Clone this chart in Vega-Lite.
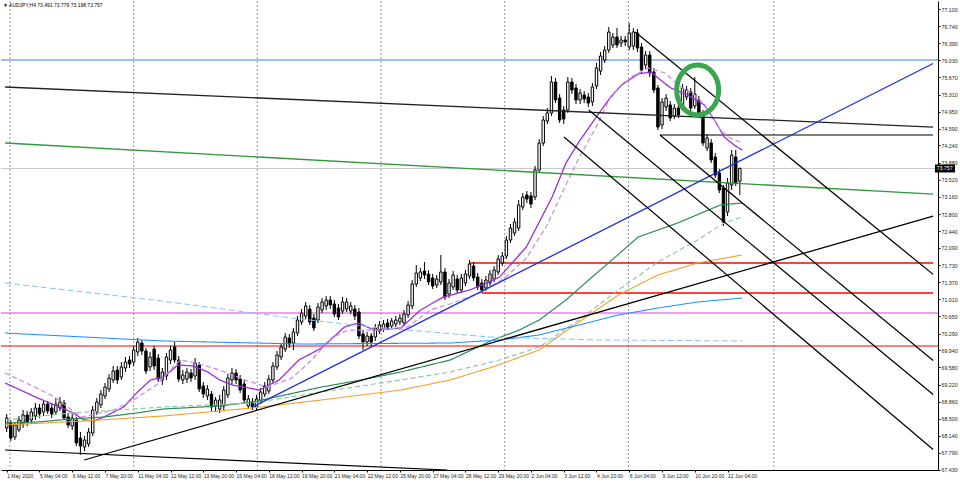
{
 "$schema": "https://vega.github.io/schema/vega-lite/v6.json",
 "width": 937, "height": 469,
 "autosize": {"type": "none"},
 "padding": {"left": 1, "top": 1, "right": 22, "bottom": 12},
 "background": "#ffffff",
 "config": {"view": {"stroke": null}, "axis": {"grid": false, "title": null}},
 "title": {"text": "▼ AUDJPY,H4  73.491 73.779 73.198 73.757", "anchor": "start", "frame": "group", "offset": -7, "dx": 2, "fontSize": 5, "font": "Liberation Sans", "fontWeight": "normal", "color": "#000000"},
 "datasets": {
  "vgrid": [{"i":0.8},{"i":31.0},{"i":61.2},{"i":91.4},{"i":121.6},{"i":151.8},{"i":187.3}],
  "hfull": [{"s":"bid","v":73.757},{"s":"blueh","v":76.035},{"s":"red","v":70.029},{"s":"mag","v":70.722}],
  "hpart": [{"s":"red","i":113.1,"i2":226.16,"v":71.772},{"s":"red","i":116.0,"i2":226.16,"v":71.142},{"s":"blk","i":159.5,"i2":226.16,"v":74.46}],
  "candles": [
{"i":0,"o":68.307,"h":68.601,"l":68.223,"c":68.517},
{"i":1,"o":68.412,"h":68.475,"l":68.034,"c":68.097},
{"i":2,"o":68.118,"h":68.433,"l":68.055,"c":68.370},
{"i":3,"o":68.265,"h":68.559,"l":68.223,"c":68.475},
{"i":4,"o":68.391,"h":68.685,"l":68.307,"c":68.580},
{"i":5,"o":68.580,"h":68.664,"l":68.349,"c":68.433},
{"i":6,"o":68.475,"h":68.727,"l":68.391,"c":68.643},
{"i":7,"o":68.559,"h":68.832,"l":68.475,"c":68.727},
{"i":8,"o":68.727,"h":68.811,"l":68.517,"c":68.601},
{"i":9,"o":68.643,"h":68.895,"l":68.559,"c":68.811},
{"i":10,"o":68.811,"h":68.874,"l":68.601,"c":68.664},
{"i":11,"o":68.727,"h":68.832,"l":68.517,"c":68.601},
{"i":12,"o":68.643,"h":68.937,"l":68.580,"c":68.811},
{"i":13,"o":68.727,"h":68.958,"l":68.664,"c":68.853},
{"i":14,"o":68.832,"h":68.895,"l":68.475,"c":68.517},
{"i":15,"o":68.538,"h":68.622,"l":68.307,"c":68.370},
{"i":16,"o":68.349,"h":68.601,"l":68.265,"c":68.517},
{"i":17,"o":68.475,"h":68.538,"l":67.929,"c":67.992},
{"i":18,"o":68.097,"h":68.223,"l":67.740,"c":67.929},
{"i":19,"o":67.908,"h":68.139,"l":67.824,"c":68.055},
{"i":20,"o":67.971,"h":68.307,"l":67.908,"c":68.223},
{"i":21,"o":68.202,"h":68.769,"l":68.139,"c":68.685},
{"i":22,"o":68.643,"h":68.937,"l":68.580,"c":68.853},
{"i":23,"o":68.790,"h":69.105,"l":68.727,"c":69.021},
{"i":24,"o":68.979,"h":69.252,"l":68.916,"c":69.168},
{"i":25,"o":69.126,"h":69.441,"l":69.063,"c":69.357},
{"i":26,"o":69.315,"h":69.609,"l":69.252,"c":69.504},
{"i":27,"o":69.525,"h":69.609,"l":69.231,"c":69.315},
{"i":28,"o":69.378,"h":69.693,"l":69.315,"c":69.588},
{"i":29,"o":69.567,"h":69.798,"l":69.483,"c":69.693},
{"i":30,"o":69.735,"h":69.819,"l":69.567,"c":69.651},
{"i":31,"o":69.693,"h":70.029,"l":69.609,"c":69.945},
{"i":32,"o":69.903,"h":70.197,"l":69.819,"c":70.113},
{"i":33,"o":70.092,"h":70.155,"l":69.840,"c":69.924},
{"i":34,"o":69.924,"h":69.987,"l":69.441,"c":69.504},
{"i":35,"o":69.588,"h":69.903,"l":69.504,"c":69.798},
{"i":36,"o":69.966,"h":70.029,"l":69.525,"c":69.609},
{"i":37,"o":69.777,"h":69.861,"l":69.273,"c":69.336},
{"i":38,"o":69.315,"h":69.567,"l":69.210,"c":69.483},
{"i":39,"o":69.399,"h":69.882,"l":69.315,"c":69.798},
{"i":40,"o":69.735,"h":70.029,"l":69.651,"c":69.945},
{"i":41,"o":70.008,"h":70.113,"l":69.672,"c":69.735},
{"i":42,"o":69.735,"h":69.819,"l":69.273,"c":69.336},
{"i":43,"o":69.315,"h":69.525,"l":69.231,"c":69.420},
{"i":44,"o":69.336,"h":69.567,"l":69.252,"c":69.483},
{"i":45,"o":69.462,"h":69.546,"l":69.273,"c":69.357},
{"i":46,"o":69.399,"h":69.777,"l":69.315,"c":69.672},
{"i":47,"o":69.630,"h":69.693,"l":69.063,"c":69.126},
{"i":48,"o":69.189,"h":69.273,"l":68.937,"c":69.021},
{"i":49,"o":68.979,"h":69.210,"l":68.895,"c":69.126},
{"i":50,"o":69.021,"h":69.084,"l":68.664,"c":68.748},
{"i":51,"o":68.769,"h":68.958,"l":68.643,"c":68.895},
{"i":52,"o":68.706,"h":69.000,"l":68.622,"c":68.895},
{"i":53,"o":68.769,"h":69.189,"l":68.685,"c":69.105},
{"i":54,"o":69.000,"h":69.441,"l":68.937,"c":69.357},
{"i":55,"o":69.315,"h":69.567,"l":69.231,"c":69.462},
{"i":56,"o":69.462,"h":69.546,"l":69.231,"c":69.315},
{"i":57,"o":69.336,"h":69.420,"l":69.042,"c":69.105},
{"i":58,"o":69.231,"h":69.315,"l":68.832,"c":68.895},
{"i":59,"o":68.769,"h":69.000,"l":68.706,"c":68.916},
{"i":60,"o":68.853,"h":68.937,"l":68.685,"c":68.748},
{"i":61,"o":68.748,"h":69.000,"l":68.685,"c":68.916},
{"i":62,"o":68.874,"h":69.147,"l":68.811,"c":69.063},
{"i":63,"o":69.021,"h":69.273,"l":68.958,"c":69.189},
{"i":64,"o":69.084,"h":69.420,"l":69.021,"c":69.336},
{"i":65,"o":69.315,"h":69.693,"l":69.252,"c":69.609},
{"i":66,"o":69.588,"h":69.924,"l":69.525,"c":69.840},
{"i":67,"o":69.798,"h":70.092,"l":69.735,"c":70.008},
{"i":68,"o":69.966,"h":70.302,"l":69.903,"c":70.218},
{"i":69,"o":70.197,"h":70.281,"l":69.987,"c":70.071},
{"i":70,"o":70.092,"h":70.407,"l":69.945,"c":70.323},
{"i":71,"o":70.302,"h":70.659,"l":70.239,"c":70.575},
{"i":72,"o":70.533,"h":70.806,"l":70.470,"c":70.722},
{"i":73,"o":70.659,"h":70.953,"l":70.596,"c":70.869},
{"i":74,"o":70.806,"h":70.890,"l":70.470,"c":70.533},
{"i":75,"o":70.617,"h":70.701,"l":70.344,"c":70.407},
{"i":76,"o":70.575,"h":70.932,"l":70.512,"c":70.848},
{"i":77,"o":70.785,"h":71.037,"l":70.722,"c":70.953},
{"i":78,"o":70.869,"h":71.079,"l":70.785,"c":70.995},
{"i":79,"o":70.995,"h":71.079,"l":70.806,"c":70.890},
{"i":80,"o":70.911,"h":70.995,"l":70.638,"c":70.701},
{"i":81,"o":70.827,"h":70.911,"l":70.575,"c":70.638},
{"i":82,"o":70.764,"h":71.058,"l":70.701,"c":70.953},
{"i":83,"o":70.806,"h":71.037,"l":70.743,"c":70.953},
{"i":84,"o":70.764,"h":70.953,"l":70.701,"c":70.869},
{"i":85,"o":70.806,"h":70.890,"l":70.575,"c":70.659},
{"i":86,"o":70.743,"h":70.827,"l":70.176,"c":70.239},
{"i":87,"o":70.281,"h":70.365,"l":69.945,"c":70.113},
{"i":88,"o":70.113,"h":70.323,"l":70.029,"c":70.239},
{"i":89,"o":70.239,"h":70.302,"l":70.029,"c":70.113},
{"i":90,"o":70.218,"h":70.491,"l":70.134,"c":70.407},
{"i":91,"o":70.344,"h":70.554,"l":70.281,"c":70.470},
{"i":92,"o":70.386,"h":70.575,"l":70.323,"c":70.491},
{"i":93,"o":70.512,"h":70.596,"l":70.365,"c":70.428},
{"i":94,"o":70.449,"h":70.617,"l":70.386,"c":70.554},
{"i":95,"o":70.491,"h":70.659,"l":70.428,"c":70.575},
{"i":96,"o":70.533,"h":70.701,"l":70.470,"c":70.617},
{"i":97,"o":70.512,"h":70.785,"l":70.449,"c":70.701},
{"i":98,"o":70.680,"h":70.974,"l":70.617,"c":70.890},
{"i":99,"o":70.869,"h":71.415,"l":70.806,"c":71.331},
{"i":100,"o":71.331,"h":71.730,"l":71.268,"c":71.562},
{"i":101,"o":71.457,"h":71.667,"l":71.394,"c":71.583},
{"i":102,"o":71.604,"h":71.793,"l":71.436,"c":71.520},
{"i":103,"o":71.541,"h":71.625,"l":71.310,"c":71.373},
{"i":104,"o":71.457,"h":71.541,"l":71.226,"c":71.289},
{"i":105,"o":71.310,"h":71.520,"l":71.247,"c":71.436},
{"i":106,"o":71.373,"h":71.940,"l":71.310,"c":71.583},
{"i":107,"o":71.583,"h":71.667,"l":70.995,"c":71.058},
{"i":108,"o":71.121,"h":71.436,"l":71.037,"c":71.352},
{"i":109,"o":71.268,"h":71.604,"l":71.205,"c":71.520},
{"i":110,"o":71.436,"h":71.520,"l":71.142,"c":71.205},
{"i":111,"o":71.205,"h":71.541,"l":71.142,"c":71.457},
{"i":112,"o":71.352,"h":71.625,"l":71.289,"c":71.541},
{"i":113,"o":71.499,"h":71.835,"l":71.436,"c":71.751},
{"i":114,"o":71.709,"h":71.793,"l":71.394,"c":71.457},
{"i":115,"o":71.478,"h":71.562,"l":71.205,"c":71.268},
{"i":116,"o":71.352,"h":71.436,"l":71.142,"c":71.205},
{"i":117,"o":71.247,"h":71.499,"l":71.184,"c":71.415},
{"i":118,"o":71.352,"h":71.625,"l":71.289,"c":71.541},
{"i":119,"o":71.436,"h":71.709,"l":71.373,"c":71.625},
{"i":120,"o":71.583,"h":71.940,"l":71.520,"c":71.856},
{"i":121,"o":71.772,"h":72.003,"l":71.709,"c":71.919},
{"i":122,"o":71.919,"h":72.339,"l":71.856,"c":72.255},
{"i":123,"o":72.255,"h":72.591,"l":72.192,"c":72.507},
{"i":124,"o":72.402,"h":72.717,"l":72.339,"c":72.633},
{"i":125,"o":72.507,"h":73.095,"l":72.444,"c":72.990},
{"i":126,"o":72.948,"h":73.242,"l":72.885,"c":73.158},
{"i":127,"o":73.200,"h":73.284,"l":73.032,"c":73.116},
{"i":128,"o":73.179,"h":73.263,"l":72.927,"c":73.011},
{"i":129,"o":73.158,"h":73.809,"l":73.095,"c":73.725},
{"i":130,"o":73.725,"h":74.376,"l":73.662,"c":74.292},
{"i":131,"o":74.292,"h":74.859,"l":74.229,"c":74.775},
{"i":132,"o":74.754,"h":75.027,"l":74.691,"c":74.922},
{"i":133,"o":74.922,"h":75.699,"l":74.859,"c":75.573},
{"i":134,"o":75.573,"h":75.657,"l":75.132,"c":75.195},
{"i":135,"o":75.237,"h":75.321,"l":74.712,"c":74.775},
{"i":136,"o":74.985,"h":75.069,"l":74.691,"c":74.796},
{"i":137,"o":74.985,"h":75.678,"l":74.922,"c":75.573},
{"i":138,"o":75.573,"h":75.657,"l":75.321,"c":75.405},
{"i":139,"o":75.447,"h":75.531,"l":75.111,"c":75.195},
{"i":140,"o":75.195,"h":75.426,"l":75.111,"c":75.342},
{"i":141,"o":75.300,"h":75.384,"l":75.132,"c":75.216},
{"i":142,"o":75.258,"h":75.342,"l":75.048,"c":75.132},
{"i":143,"o":75.153,"h":75.552,"l":75.069,"c":75.468},
{"i":144,"o":75.489,"h":75.972,"l":75.426,"c":75.867},
{"i":145,"o":75.804,"h":76.203,"l":75.720,"c":76.119},
{"i":146,"o":76.035,"h":76.329,"l":75.972,"c":76.245},
{"i":147,"o":76.245,"h":76.728,"l":76.182,"c":76.623},
{"i":148,"o":76.350,"h":76.602,"l":76.287,"c":76.518},
{"i":149,"o":76.518,"h":76.707,"l":76.287,"c":76.350},
{"i":150,"o":76.392,"h":76.539,"l":76.308,"c":76.455},
{"i":151,"o":76.455,"h":76.539,"l":76.329,"c":76.413},
{"i":152,"o":76.308,"h":76.812,"l":76.245,"c":76.602},
{"i":153,"o":76.329,"h":76.707,"l":76.245,"c":76.623},
{"i":154,"o":76.602,"h":76.686,"l":76.203,"c":76.287},
{"i":155,"o":76.308,"h":76.392,"l":75.762,"c":75.825},
{"i":156,"o":75.930,"h":76.224,"l":75.846,"c":76.140},
{"i":157,"o":76.140,"h":76.224,"l":75.678,"c":75.762},
{"i":158,"o":75.783,"h":75.867,"l":75.342,"c":75.405},
{"i":159,"o":75.447,"h":75.510,"l":74.565,"c":74.628},
{"i":160,"o":74.670,"h":75.237,"l":74.586,"c":75.153},
{"i":161,"o":75.048,"h":75.321,"l":74.964,"c":75.237},
{"i":162,"o":75.090,"h":75.174,"l":74.754,"c":74.817},
{"i":163,"o":74.859,"h":75.111,"l":74.796,"c":75.027},
{"i":164,"o":75.027,"h":75.111,"l":74.817,"c":74.880},
{"i":165,"o":75.027,"h":75.531,"l":74.964,"c":75.447},
{"i":166,"o":75.258,"h":75.489,"l":75.195,"c":75.405},
{"i":167,"o":75.363,"h":75.447,"l":74.964,"c":75.027},
{"i":168,"o":75.069,"h":75.678,"l":75.006,"c":75.321},
{"i":169,"o":75.195,"h":75.279,"l":74.817,"c":74.880},
{"i":170,"o":74.901,"h":74.985,"l":74.229,"c":74.292},
{"i":171,"o":74.187,"h":74.481,"l":74.124,"c":74.397},
{"i":172,"o":74.292,"h":74.376,"l":73.872,"c":73.935},
{"i":173,"o":73.998,"h":74.082,"l":73.557,"c":73.620},
{"i":174,"o":73.662,"h":73.746,"l":73.242,"c":73.305},
{"i":175,"o":73.347,"h":73.410,"l":72.549,"c":72.633},
{"i":176,"o":72.843,"h":73.557,"l":72.759,"c":73.452},
{"i":177,"o":73.410,"h":74.145,"l":73.305,"c":74.040},
{"i":178,"o":73.998,"h":74.145,"l":73.389,"c":73.452},
{"i":179,"o":73.491,"h":73.779,"l":73.198,"c":73.757}
  ],
  "mas": [
{"s":"pS","i":-0.4,"v":69.252},{"s":"pS","i":7.56,"v":68.937},{"s":"pS","i":11.67,"v":68.79},{"s":"pS","i":15.77,"v":68.643},{"s":"pS","i":18.91,"v":68.475},{"s":"pS","i":21.33,"v":68.454},{"s":"pS","i":23.74,"v":68.538},{"s":"pS","i":28.57,"v":68.748},{"s":"pS","i":31.71,"v":69.042},{"s":"pS","i":35.1,"v":69.315},{"s":"pS","i":38.24,"v":69.378},{"s":"pS","i":41.86,"v":69.63},{"s":"pS","i":45.48,"v":69.609},{"s":"pS","i":49.11,"v":69.483},{"s":"pS","i":52.0,"v":69.315},{"s":"pS","i":55.14,"v":69.21},{"s":"pS","i":61.67,"v":69.105},{"s":"pS","i":66.5,"v":69.315},{"s":"pS","i":71.33,"v":69.735},{"s":"pS","i":76.88,"v":69.987},{"s":"pS","i":82.44,"v":70.428},{"s":"pS","i":85.82,"v":70.512},{"s":"pS","i":89.69,"v":70.365},{"s":"pS","i":96.21,"v":70.407},{"s":"pS","i":101.04,"v":70.785},{"s":"pS","i":106.59,"v":71.058},{"s":"pS","i":113.12,"v":71.205},{"s":"pS","i":120.36,"v":71.478},{"s":"pS","i":126.88,"v":72.108},{"s":"pS","i":130.02,"v":72.633},{"s":"pS","i":133.17,"v":73.158},{"s":"pS","i":136.55,"v":73.872},{"s":"pS","i":139.69,"v":74.313},{"s":"pS","i":143.79,"v":74.817},{"s":"pS","i":146.93,"v":75.195},{"s":"pS","i":150.07,"v":75.51},{"s":"pS","i":154.18,"v":75.741},{"s":"pS","i":157.32,"v":75.783},{"s":"pS","i":159.01,"v":75.657},{"s":"pS","i":162.15,"v":75.447},{"s":"pS","i":166.26,"v":75.3},{"s":"pS","i":170.36,"v":75.09},{"s":"pS","i":172.78,"v":74.775},{"s":"pS","i":175.19,"v":74.418},{"s":"pS","i":177.61,"v":74.25},{"s":"pS","i":179.54,"v":74.145},
{"s":"pD","i":-0.4,"v":69.462},{"s":"pD","i":6.84,"v":69.168},{"s":"pD","i":11.67,"v":68.958},{"s":"pD","i":18.19,"v":68.538},{"s":"pD","i":26.16,"v":68.685},{"s":"pD","i":31.71,"v":68.937},{"s":"pD","i":36.55,"v":69.21},{"s":"pD","i":42.34,"v":69.735},{"s":"pD","i":46.21,"v":69.672},{"s":"pD","i":52.0,"v":69.525},{"s":"pD","i":58.29,"v":69.315},{"s":"pD","i":63.6,"v":69.168},{"s":"pD","i":69.64,"v":69.357},{"s":"pD","i":74.47,"v":69.735},{"s":"pD","i":79.3,"v":70.197},{"s":"pD","i":83.41,"v":70.365},{"s":"pD","i":91.38,"v":70.365},{"s":"pD","i":97.9,"v":70.428},{"s":"pD","i":103.45,"v":70.785},{"s":"pD","i":108.99,"v":70.932},{"s":"pD","i":115.53,"v":71.142},{"s":"pD","i":121.57,"v":71.457},{"s":"pD","i":126.88,"v":71.877},{"s":"pD","i":131.71,"v":72.528},{"s":"pD","i":135.58,"v":73.242},{"s":"pD","i":139.69,"v":73.977},{"s":"pD","i":143.79,"v":74.607},{"s":"pD","i":147.66,"v":75.3},{"s":"pD","i":152.49,"v":75.678},{"s":"pD","i":156.59,"v":75.867},{"s":"pD","i":160.7,"v":75.762},{"s":"pD","i":164.56,"v":75.468},{"s":"pD","i":168.67,"v":75.258},{"s":"pD","i":171.81,"v":74.922},{"s":"pD","i":174.23,"v":74.565},{"s":"pD","i":176.64,"v":74.397},{"s":"pD","i":179.54,"v":74.292},
{"s":"gS","i":-0.4,"v":68.412},{"s":"gS","i":7.56,"v":68.433},{"s":"gS","i":15.77,"v":68.496},{"s":"gS","i":23.74,"v":68.538},{"s":"gS","i":31.71,"v":68.622},{"s":"gS","i":38.24,"v":68.706},{"s":"gS","i":52.0,"v":68.769},{"s":"gS","i":59.98,"v":68.853},{"s":"gS","i":67.95,"v":69.0},{"s":"gS","i":76.88,"v":69.168},{"s":"gS","i":86.55,"v":69.315},{"s":"gS","i":96.21,"v":69.483},{"s":"gS","i":108.29,"v":69.735},{"s":"gS","i":118.67,"v":70.155},{"s":"gS","i":125.19,"v":70.365},{"s":"gS","i":130.02,"v":70.575},{"s":"gS","i":136.55,"v":70.995},{"s":"gS","i":142.1,"v":71.415},{"s":"gS","i":146.93,"v":71.772},{"s":"gS","i":154.18,"v":72.318},{"s":"gS","i":163.84,"v":72.612},{"s":"gS","i":174.23,"v":72.99},{"s":"gS","i":179.54,"v":73.032},
{"s":"gD","i":-0.4,"v":68.475},{"s":"gD","i":15.77,"v":68.622},{"s":"gD","i":38.24,"v":68.748},{"s":"gD","i":59.98,"v":68.832},{"s":"gD","i":76.88,"v":69.063},{"s":"gD","i":96.21,"v":69.315},{"s":"gD","i":108.29,"v":69.483},{"s":"gD","i":120.36,"v":69.735},{"s":"gD","i":130.02,"v":70.008},{"s":"gD","i":139.69,"v":70.575},{"s":"gD","i":149.35,"v":71.205},{"s":"gD","i":159.01,"v":71.793},{"s":"gD","i":168.67,"v":72.255},{"s":"gD","i":175.19,"v":72.612},{"s":"gD","i":179.54,"v":72.738},
{"s":"or","i":-0.4,"v":68.37},{"s":"or","i":18.91,"v":68.454},{"s":"or","i":38.24,"v":68.559},{"s":"or","i":59.98,"v":68.727},{"s":"or","i":76.88,"v":68.895},{"s":"or","i":96.21,"v":69.105},{"s":"or","i":108.29,"v":69.315},{"s":"or","i":118.67,"v":69.588},{"s":"or","i":130.02,"v":69.945},{"s":"or","i":139.69,"v":70.533},{"s":"or","i":149.35,"v":71.1},{"s":"or","i":159.01,"v":71.52},{"s":"or","i":168.67,"v":71.772},{"s":"or","i":179.54,"v":71.94},
{"s":"lbS","i":-0.4,"v":70.302},{"s":"lbS","i":38.24,"v":70.134},{"s":"lbS","i":72.05,"v":70.071},{"s":"lbS","i":108.29,"v":70.092},{"s":"lbS","i":120.36,"v":70.155},{"s":"lbS","i":130.02,"v":70.26},{"s":"lbS","i":139.69,"v":70.47},{"s":"lbS","i":149.35,"v":70.68},{"s":"lbS","i":159.01,"v":70.827},{"s":"lbS","i":168.67,"v":70.953},{"s":"lbS","i":179.54,"v":71.037},
{"s":"lbD","i":-0.4,"v":71.352},{"s":"lbD","i":35.82,"v":70.995},{"s":"lbD","i":69.64,"v":70.617},{"s":"lbD","i":88.97,"v":70.428},{"s":"lbD","i":117.95,"v":70.218},{"s":"lbD","i":144.52,"v":70.155},{"s":"lbD","i":179.54,"v":70.134}
  ],
  "tl": [
{"s":"blk1","i":-0.4,"v":75.468},{"s":"blk1","i":226.2,"v":74.626},
{"s":"grT","i":-0.4,"v":74.292},{"s":"grT","i":226.2,"v":73.217},
{"s":"bluT","i":59.98,"v":68.748},{"s":"bluT","i":226.2,"v":75.962},
{"s":"blk2","i":18.91,"v":67.635},{"s":"blk2","i":226.2,"v":72.757},
{"s":"blk3","i":-0.4,"v":67.845},{"s":"blk3","i":107.56,"v":67.425},
{"s":"L1","i":153.45,"v":76.623},{"s":"L1","i":226.2,"v":71.533},
{"s":"L2","i":142.1,"v":74.985},{"s":"L2","i":226.2,"v":69.01},
{"s":"L3","i":159.5,"v":74.46},{"s":"L3","i":226.2,"v":69.725},
{"s":"L4","i":136.06,"v":74.418},{"s":"L4","i":226.2,"v":67.856}
  ],
  "circle": [{"i":168.7,"v":75.405}],
  "last": [{"i":226.16,"v":73.757,"t":"73.757"}]
 },
 "resolve": {"scale": {"color": "independent", "strokeWidth": "independent", "strokeDash": "independent"}, "axis": {"x": "independent", "y": "independent"}},
 "layer": [
  {
   "data": {"name": "vgrid"},
   "mark": {"type": "rule", "stroke": "#7a7a7a", "strokeDash": [2, 2], "strokeWidth": 0.8},
   "encoding": {"x": {"field": "i", "type": "quantitative", "scale": {"type": "linear", "domain": [-0.17, 226.16], "nice": false, "zero": false},
     "axis": {"orient": "bottom", "title": null, "values": [0,8,16,24,32,40,48,56,64,72,80,88,96,104,112,120,128,136,144,152,160,168,176],
      "labelExpr": "['1 May 2020','5 May 04:00','6 May 12:00','7 May 20:00','11 May 04:00','12 May 12:00','13 May 20:00','15 May 04:00','18 May 12:00','19 May 20:00','21 May 04:00','22 May 12:00','25 May 20:00','27 May 04:00','28 May 12:00','29 May 20:00','2 Jun 04:00','3 Jun 12:00','4 Jun 20:00','8 Jun 04:00','9 Jun 12:00','10 Jun 20:00','12 Jun 04:00'][round(datum.value/8)]",
      "labelAlign": "left", "labelFontSize": 5, "labelFont": "Liberation Sans", "labelColor": "#222222", "tickSize": 2, "tickColor": "#000000", "domainColor": "#000000", "labelPadding": 1, "labelOverlap": false, "labelBound": false, "labelFlush": false, "grid": false}}}
  },
  {
   "data": {"name": "hfull"},
   "mark": {"type": "rule", "clip": true},
   "encoding": {
    "y": {"field": "v", "type": "quantitative", "scale": {"type": "linear", "domain": [67.425, 77.274], "nice": false, "zero": false},
     "axis": {"orient": "right", "title": null, "values": [77.1,76.74,76.39,76.03,75.67,75.31,74.95,74.59,74.24,73.88,73.52,73.16,72.8,72.44,72.09,71.73,71.37,71.01,70.65,70.29,69.94,69.58,69.22,68.86,68.5,68.14,67.79,67.43],
      "format": ".3f", "labelFontSize": 5.3, "labelFont": "Liberation Sans", "labelColor": "#222222", "tickSize": 2, "tickColor": "#000000", "domainColor": "#000000", "labelPadding": 1, "labelOverlap": false, "labelBound": false, "labelFlush": false, "labelSeparation": 0, "grid": false}},
    "color": {"field": "s", "type": "nominal", "scale": {"domain": ["bid", "blueh", "red", "mag"], "range": ["#c8c8c8", "#3f7fd8", "#ff0000", "#e040e0"]}, "legend": null},
    "strokeWidth": {"field": "s", "type": "nominal", "scale": {"domain": ["bid", "blueh", "red", "mag"], "range": [1, 1.2, 1.5, 1.6]}, "legend": null}
   }
  },
  {
   "data": {"name": "hpart"},
   "mark": {"type": "rule", "clip": true},
   "encoding": {
    "x": {"field": "i", "type": "quantitative", "scale": {"type": "linear", "domain": [-0.17, 226.16], "nice": false, "zero": false}, "axis": null},
    "x2": {"field": "i2"},
    "y": {"field": "v", "type": "quantitative", "scale": {"type": "linear", "domain": [67.425, 77.274], "nice": false, "zero": false}, "axis": null},
    "color": {"field": "s", "type": "nominal", "scale": {"domain": ["red", "blk"], "range": ["#ff0000", "#000000"]}, "legend": null},
    "strokeWidth": {"field": "s", "type": "nominal", "scale": {"domain": ["red", "blk"], "range": [1.5, 1.2]}, "legend": null}
   }
  },
  {
   "data": {"name": "candles"},
   "mark": {"type": "rule", "stroke": "#000000", "strokeWidth": 1},
   "encoding": {
    "x": {"field": "i", "type": "quantitative", "scale": {"type": "linear", "domain": [-0.17, 226.16], "nice": false, "zero": false}, "axis": null},
    "y": {"field": "l", "type": "quantitative", "scale": {"type": "linear", "domain": [67.425, 77.274], "nice": false, "zero": false}, "axis": null},
    "y2": {"field": "h"}
   }
  },
  {
   "data": {"name": "candles"},
   "mark": {"type": "bar", "size": 2.4, "stroke": "#000000", "strokeWidth": 1},
   "encoding": {
    "x": {"field": "i", "type": "quantitative", "scale": {"type": "linear", "domain": [-0.17, 226.16], "nice": false, "zero": false}, "axis": null},
    "y": {"field": "o", "type": "quantitative", "scale": {"type": "linear", "domain": [67.425, 77.274], "nice": false, "zero": false}, "axis": null},
    "y2": {"field": "c"},
    "fill": {"condition": {"test": "datum.c >= datum.o", "value": "#ffffff"}, "value": "#000000"}
   }
  },
  {
   "data": {"name": "mas"},
   "mark": {"type": "line", "clip": true},
   "encoding": {
    "x": {"field": "i", "type": "quantitative", "scale": {"type": "linear", "domain": [-0.17, 226.16], "nice": false, "zero": false}, "axis": null},
    "y": {"field": "v", "type": "quantitative", "scale": {"type": "linear", "domain": [67.425, 77.274], "nice": false, "zero": false}, "axis": null},
    "color": {"field": "s", "type": "nominal", "scale": {"domain": ["pS", "pD", "gS", "gD", "or", "lbS", "lbD"], "range": ["#9b30d9", "#c68ee6", "#2e8b57", "#8cc79e", "#f0a030", "#1e90ff", "#87c3f5"]}, "legend": null},
    "strokeDash": {"field": "s", "type": "nominal", "scale": {"domain": ["pS", "pD", "gS", "gD", "or", "lbS", "lbD"], "range": [[1, 0], [5, 3], [1, 0], [5, 3], [1, 0], [1, 0], [6, 3]]}, "legend": null},
    "strokeWidth": {"field": "s", "type": "nominal", "scale": {"domain": ["pS", "pD", "gS", "gD", "or", "lbS", "lbD"], "range": [1.3, 1, 1.3, 1, 1.3, 1.5, 1.2]}, "legend": null}
   }
  },
  {
   "data": {"name": "tl"},
   "mark": {"type": "line", "clip": true},
   "encoding": {
    "x": {"field": "i", "type": "quantitative", "scale": {"type": "linear", "domain": [-0.17, 226.16], "nice": false, "zero": false}, "axis": null},
    "y": {"field": "v", "type": "quantitative", "scale": {"type": "linear", "domain": [67.425, 77.274], "nice": false, "zero": false}, "axis": null},
    "color": {"field": "s", "type": "nominal", "scale": {"domain": ["blk1", "grT", "bluT", "blk2", "blk3", "L1", "L2", "L3", "L4"], "range": ["#222222", "#2f9a3a", "#1a2ee6", "#000000", "#000000", "#000000", "#000000", "#000000", "#000000"]}, "legend": null},
    "strokeWidth": {"field": "s", "type": "nominal", "scale": {"domain": ["blk1", "grT", "bluT", "blk2", "blk3", "L1", "L2", "L3", "L4"], "range": [1.3, 1.2, 1.6, 1.4, 1.2, 1.1, 1.1, 1.1, 1.1]}, "legend": null}
   }
  },
  {
   "data": {"name": "circle"},
   "mark": {"type": "point", "shape": "M -0.84 0 A 0.84 1 0 1 0 0.84 0 A 0.84 1 0 1 0 -0.84 0 Z", "size": 2500, "filled": false, "stroke": "#3aa650", "strokeWidth": 5, "opacity": 1},
   "encoding": {
    "x": {"field": "i", "type": "quantitative", "scale": {"type": "linear", "domain": [-0.17, 226.16], "nice": false, "zero": false}, "axis": null},
    "y": {"field": "v", "type": "quantitative", "scale": {"type": "linear", "domain": [67.425, 77.274], "nice": false, "zero": false}, "axis": null}
   }
  },
  {
   "data": {"name": "last"},
   "mark": {"type": "point", "shape": "M 0.5 -1 L 5.5 -1 L 5.5 1 L 0.5 1 Z", "size": 64, "filled": true, "fill": "#000000", "stroke": null, "opacity": 1},
   "encoding": {
    "x": {"field": "i", "type": "quantitative", "scale": {"type": "linear", "domain": [-0.17, 226.16], "nice": false, "zero": false}, "axis": null},
    "y": {"field": "v", "type": "quantitative", "scale": {"type": "linear", "domain": [67.425, 77.274], "nice": false, "zero": false}, "axis": null}
   }
  },
  {
   "data": {"name": "last"},
   "mark": {"type": "text", "align": "left", "baseline": "middle", "dx": 3.5, "fontSize": 5.3, "font": "Liberation Sans", "fill": "#ffffff"},
   "encoding": {
    "x": {"field": "i", "type": "quantitative", "scale": {"type": "linear", "domain": [-0.17, 226.16], "nice": false, "zero": false}, "axis": null},
    "y": {"field": "v", "type": "quantitative", "scale": {"type": "linear", "domain": [67.425, 77.274], "nice": false, "zero": false}, "axis": null},
    "text": {"field": "t"}
   }
  }
 ]
}
